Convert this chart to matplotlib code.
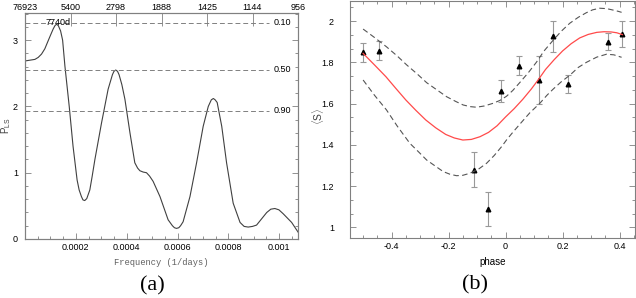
import numpy as np
import matplotlib
matplotlib.use("Agg")
import matplotlib.pyplot as plt
from matplotlib.ticker import MultipleLocator

plt.rcParams["font.family"] = ["Liberation Sans", "DejaVu Sans"]
plt.rcParams["mathtext.fontset"] = "custom"
plt.rcParams["mathtext.rm"] = "Liberation Sans"

# ---- panel (a): periodogram
freq = [0.000006, 0.000039, 0.000052, 0.000065, 0.000078, 0.000091, 0.000102,
        0.000111, 0.000118, 0.000124, 0.000131, 0.000140, 0.000148, 0.000157,
        0.000174, 0.000189, 0.000205, 0.000213, 0.000222, 0.000228, 0.000235,
        0.000243, 0.000255, 0.000264, 0.000275, 0.000301, 0.000327, 0.000344,
        0.000350, 0.000357, 0.000364, 0.000370, 0.000381, 0.000393, 0.000413,
        0.000432, 0.000443, 0.000452, 0.000465, 0.000478, 0.000490, 0.000504,
        0.000531, 0.000563, 0.000580, 0.000588, 0.000596, 0.000605, 0.000612,
        0.000622, 0.000649, 0.000675, 0.000701, 0.000721, 0.000733, 0.000741,
        0.000748, 0.000756, 0.000774, 0.000793, 0.000819, 0.000846, 0.000862,
        0.000878, 0.000895, 0.000911, 0.000951, 0.000967, 0.000983, 0.000999,
        0.001016, 0.001049, 0.001075]
power = [2.69, 2.71, 2.74, 2.79, 2.87, 2.99, 3.09,
         3.17, 3.22, 3.24, 3.22, 3.14, 3.00, 2.61,
         2.00, 1.40, 0.89, 0.74, 0.64, 0.59, 0.58,
         0.61, 0.74, 0.94, 1.20, 1.75, 2.26, 2.48,
         2.53, 2.55, 2.53, 2.48, 2.33, 2.11, 1.60,
         1.15, 1.07, 1.03, 1.01, 1.00, 0.95, 0.87,
         0.64, 0.29, 0.20, 0.17, 0.16, 0.17, 0.20,
         0.26, 0.64, 1.15, 1.70, 2.00, 2.10, 2.12,
         2.10, 2.06, 1.70, 1.15, 0.54, 0.25, 0.19,
         0.18, 0.19, 0.21, 0.40, 0.45, 0.46, 0.44,
         0.38, 0.25, 0.10]
fap_levels = [3.26, 2.55, 1.935]
fap_labels = ["0.10", "0.50", "0.90"]
period_labels = ["76923", "5400", "2798", "1888", "1425", "1144", "956"]
peak_label = "7740d"

# ---- panel (b): phase-folded data
ph = [-0.502, -0.446, -0.111, -0.061, -0.016, 0.048, 0.117, 0.165, 0.220, 0.359, 0.409]
s_val = [1.848, 1.856, 1.278, 1.089, 1.662, 1.782, 1.714, 1.927, 1.695, 1.900, 1.937]
s_err = [0.046, 0.045, 0.085, 0.083, 0.054, 0.046, 0.115, 0.075, 0.045, 0.040, 0.061]

fit_x = [-0.50, -0.46, -0.42, -0.385, -0.35, -0.315, -0.28, -0.245, -0.21, -0.18,
         -0.15, -0.12, -0.09, -0.06, -0.03, 0.0, 0.03, 0.06, 0.09, 0.115,
         0.14, 0.17, 0.20, 0.23, 0.26, 0.29, 0.32, 0.345, 0.37, 0.39, 0.41]
fit_y = [1.843, 1.787, 1.730, 1.673, 1.617, 1.567, 1.520, 1.482, 1.450, 1.433,
         1.423, 1.426, 1.439, 1.460, 1.492, 1.535, 1.575, 1.620, 1.670, 1.716,
         1.765, 1.812, 1.855, 1.890, 1.918, 1.935, 1.945, 1.948, 1.947, 1.943, 1.934]

up_x = [-0.50, -0.46, -0.418, -0.38, -0.347, -0.31, -0.277, -0.24, -0.207, -0.175,
        -0.149, -0.125, -0.102, -0.075, -0.044, -0.02, 0.003, 0.025, 0.05, 0.08,
        0.108, 0.135, 0.167, 0.195, 0.225, 0.255, 0.283, 0.305, 0.33, 0.355,
        0.377, 0.395, 0.407]
up_y = [1.961, 1.920, 1.875, 1.830, 1.787, 1.743, 1.701, 1.665, 1.633, 1.610,
        1.593, 1.585, 1.582, 1.588, 1.601, 1.615, 1.635, 1.663, 1.702, 1.750,
        1.800, 1.855, 1.907, 1.950, 1.989, 2.018, 2.040, 2.054, 2.062, 2.060,
        2.053, 2.047, 2.042]

lo_x = [-0.50, -0.46, -0.418, -0.38, -0.336, -0.305, -0.277, -0.245, -0.219, -0.195,
        -0.172, -0.15, -0.125, -0.095, -0.067, -0.04, -0.014, 0.003, 0.025, 0.05,
        0.085, 0.12, 0.145, 0.167, 0.195, 0.226, 0.255, 0.284, 0.32, 0.354,
        0.38, 0.407]
lo_y = [1.714, 1.640, 1.569, 1.490, 1.407, 1.365, 1.326, 1.295, 1.270, 1.257,
        1.250, 1.252, 1.262, 1.282, 1.310, 1.348, 1.391, 1.423, 1.460, 1.500,
        1.555, 1.601, 1.640, 1.670, 1.705, 1.738, 1.775, 1.800, 1.825, 1.839,
        1.836, 1.824]

W, H = 636, 298
fig = plt.figure(figsize=(W / 100, H / 100), dpi=100)

axcol = "#808080"
tick_font = 6.5


def style(ax):
    for sp in ax.spines.values():
        sp.set_color(axcol)
        sp.set_linewidth(0.8)
    ax.tick_params(which="both", direction="in", color=axcol, width=0.6,
                   labelsize=tick_font, labelcolor="black", pad=3)
    ax.tick_params(which="major", length=4)
    ax.tick_params(which="minor", length=2.5)


# ---------- (a)
ax1 = fig.add_axes([25 / W, 1 - 239 / H, 273 / W, 226 / H])
style(ax1)
ax1.plot(freq, power, color="#404040", lw=0.8)
ax1.set_xlim(0, 0.001074)
ax1.set_ylim(0, 3.41)
ax1.xaxis.set_minor_locator(MultipleLocator(0.00005))
ax1.set_yticks([0, 1, 2, 3])
ax1.set_yticklabels(["0", "1", "2", "3"])
ax1.yaxis.set_minor_locator(MultipleLocator(0.2))
ax1.set_xticks([0.0002, 0.0004, 0.0006, 0.0008, 0.001])
ax1.set_xticklabels(["0.0002", "0.0004", "0.0006", "0.0008", "0.001"])
ax1.tick_params(which="both", right=True, labelright=False)
ax1.tick_params(axis="y", pad=5)
ax1.set_xlabel("Frequency (1/days)", family="Liberation Mono", fontsize=6.3,
               color="#606060", labelpad=4)
ax1.set_ylabel(r"$\mathrm{P_{LS}}$", fontsize=7, color="#404040")
ax1.yaxis.set_label_coords(-0.044, 0.5)

for lev, lab in zip(fap_levels, fap_labels):
    ax1.plot([0, 0.00096], [lev, lev], color=axcol, lw=0.7, dashes=(5, 3))
    ax1.text(0.000978, lev, lab, fontsize=tick_font, va="center", ha="left")
ax1.text(0.00008, 3.27, peak_label, fontsize=tick_font, va="center", ha="left")

top = ax1.twiny()
style(top)
top.set_xlim(0, 6)
top.set_xticks(range(len(period_labels)))
top.set_xticklabels(period_labels)
top.tick_params(which="major", length=9, pad=1)
top.tick_params(bottom=False)

fig.text(152 / W, 1 - 286 / H, "(a)", family="Liberation Serif", fontsize=16,
         ha="center", va="center")

# ---------- (b)
ax2 = fig.add_axes([350 / W, 1 - 238 / H, 285 / W, 237 / H])
style(ax2)
ax2.errorbar(ph, s_val, yerr=s_err, fmt="none", ecolor="#999999", elinewidth=0.8,
             capsize=2, capthick=0.8)
ax2.plot(ph, s_val, "^", color="black", ms=3.3)
ax2.plot(fit_x, fit_y, color="#ff4a4a", lw=0.9)
ax2.plot(up_x, up_y, color="#555555", lw=0.8, dashes=(5, 3))
ax2.plot(lo_x, lo_y, color="#555555", lw=0.8, dashes=(5, 3))
ax2.set_xlim(-0.546, 0.454)
ax2.set_ylim(0.948, 2.097)
ax2.xaxis.set_minor_locator(MultipleLocator(0.05))
ax2.set_yticks([1, 1.2, 1.4, 1.6, 1.8, 2])
ax2.set_yticklabels(["1", "1.2", "1.4", "1.6", "1.8", "2"])
ax2.yaxis.set_minor_locator(MultipleLocator(0.2 / 3))
ax2.set_xticks([-0.4, -0.2, 0, 0.2, 0.4])
ax2.set_xticklabels(["-0.4", "-0.2", "0", "0.2", "0.4"])
ax2.tick_params(which="both", top=True, right=True)
ax2.tick_params(axis="y", pad=11.5)
ax2.set_xlabel("phase", fontsize=7, labelpad=4)
ax2.set_ylabel(r"$\langle\mathrm{S}\rangle$", fontsize=7.5, color="#404040")
ax2.yaxis.set_label_coords(-0.084, 0.515)

fig.text(475 / W, 1 - 285 / H, "(b)", family="Liberation Serif", fontsize=16,
         ha="center", va="center")

fig.savefig("out.png", dpi=100)
